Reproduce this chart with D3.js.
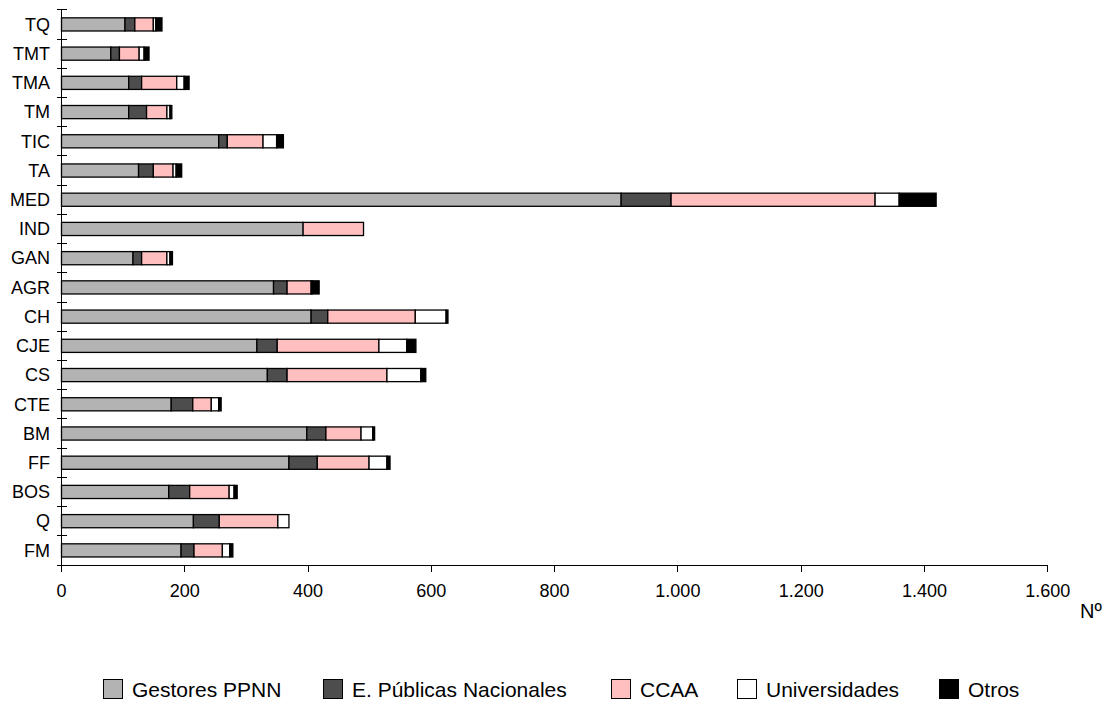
<!DOCTYPE html>
<html>
<head>
<meta charset="utf-8">
<script src="https://cdn.jsdelivr.net/npm/d3@7"></script>
<style>
  html, body { margin: 0; padding: 0; background: #fff; }
  svg text { font-family: "Liberation Sans", Arial, sans-serif; fill: #000; }
</style>
</head>
<body>
<svg id="chart" width="1110" height="707"></svg>
<script>
// ---- data ----
const categories = ["TQ","TMT","TMA","TM","TIC","TA","MED","IND","GAN","AGR","CH","CJE","CS","CTE","BM","FF","BOS","Q","FM"];
const seriesNames = ["Gestores PPNN","E. Públicas Nacionales","CCAA","Universidades","Otros"];
const gestores      = [103, 80, 109, 109, 255, 125, 908, 392, 116, 344, 405, 317, 334, 178, 398, 369, 174, 214, 194];
const ePublicas     = [ 16, 14,  21,  29,  14,  24,  81,   0,  14,  22,  27,  33,  32,  35,  31,  46,  34,  42,  21];
const ccaa          = [ 30, 32,  57,  33,  58,  32, 331,  98,  41,  39, 142, 165, 162,  30,  57,  84,  64,  95,  46];
const universidades = [  4,  8,  12,   5,  22,   5,  39,   0,   5,   2,  50,  45,  55,  12,  19,  29,   8,  18,  12];
const otros         = [ 10,  8,   8,   3,  11,   9,  60,   0,   4,  11,   3,  15,   8,   4,   3,   5,   5,   0,   5];
const xTicks = [0, 200, 400, 600, 800, 1000, 1200, 1400, 1600];
const axisTitle = "Nº";

// ---- styles ----
const colors = ["#b3b3b3", "#4d4d4d", "#ffbfbf", "#ffffff", "#000000"];

const svg = d3.select("#chart");
const margin = { left: 61.5, right: 1047.7, top: 9.8, bottom: 565 };

const x = d3.scaleLinear().domain([0, 1600]).range([margin.left, margin.right]);
const y = d3.scaleBand().domain(categories).range([margin.top, margin.bottom]).paddingInner(0.55).paddingOuter(0.275);
const yOuter = d3.scaleBand().domain(categories).range([margin.top, margin.bottom]);

const rows = categories.map((c, i) => ({
  cat: c, "Gestores PPNN": gestores[i], "E. Públicas Nacionales": ePublicas[i],
  "CCAA": ccaa[i], "Universidades": universidades[i], "Otros": otros[i]
}));
const stacked = d3.stack().keys(seriesNames)(rows);

// bars
const g = svg.append("g");
stacked.forEach((layer, si) => {
  g.append("g").selectAll("rect").data(layer.filter(d => d[1] - d[0] > 0)).join("rect")
    .attr("x", d => x(d[0]))
    .attr("y", d => y(d.data.cat))
    .attr("width", d => x(d[1]) - x(d[0]))
    .attr("height", y.bandwidth())
    .attr("fill", colors[si])
    .attr("stroke", "#000")
    .attr("stroke-width", 1.3);
});

// y axis line with crossing ticks at band boundaries
const axisG = svg.append("g").attr("stroke", "#000").attr("stroke-width", 1).attr("shape-rendering", "crispEdges");
axisG.append("line").attr("x1", x(0)).attr("x2", x(0)).attr("y1", margin.top).attr("y2", margin.bottom);
const boundaries = categories.map(c => yOuter(c)).concat([margin.bottom]);
axisG.selectAll("line.yt").data(boundaries).join("line").attr("class", "yt")
  .attr("x1", x(0) - 5).attr("x2", x(0) + 5).attr("y1", d => d).attr("y2", d => d);

// x axis
axisG.append("line").attr("x1", x(0) - 5).attr("x2", x(1600)).attr("y1", margin.bottom).attr("y2", margin.bottom);
axisG.selectAll("line.xt").data(xTicks).join("line").attr("class", "xt")
  .attr("x1", d => x(d)).attr("x2", d => x(d)).attr("y1", margin.bottom).attr("y2", margin.bottom + 7);

const fmt = v => d3.format(",")(v).replace(/,/g, ".");
svg.append("g").selectAll("text").data(xTicks).join("text")
  .attr("x", d => x(d)).attr("y", 597)
  .attr("text-anchor", "middle").attr("font-size", 18)
  .text(d => fmt(d));

// category labels
svg.append("g").selectAll("text").data(categories).join("text")
  .attr("x", 50).attr("y", d => yOuter(d) + yOuter.bandwidth() / 2)
  .attr("dy", "0.35em").attr("text-anchor", "end").attr("font-size", 18)
  .text(d => d);

// axis title
svg.append("text").attr("x", 1080).attr("y", 618).attr("font-size", 20).text(axisTitle);

// legend
const legendX = [103, 323, 611, 737, 939];
const lg = svg.append("g");
seriesNames.forEach((name, i) => {
  lg.append("rect").attr("x", legendX[i] + 0.5).attr("y", 679.5).attr("width", 19).attr("height", 19)
    .attr("fill", colors[i]).attr("stroke", "#000").attr("stroke-width", 1);
  lg.append("text").attr("x", legendX[i] + 29).attr("y", 696.5).attr("font-size", 21).text(name);
});
</script>
</body>
</html>
